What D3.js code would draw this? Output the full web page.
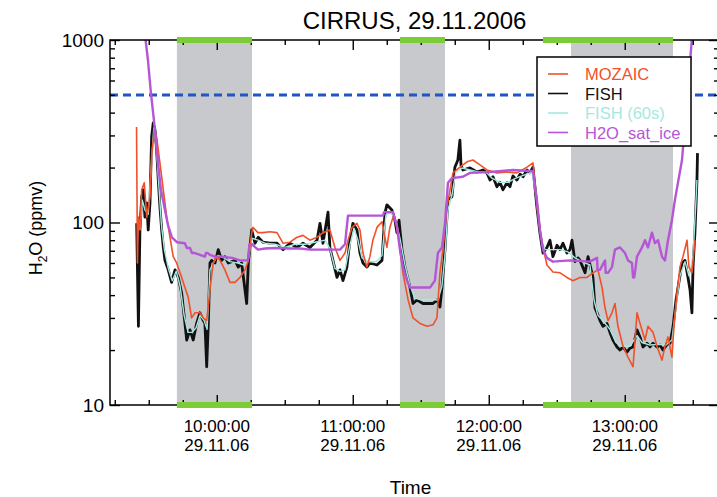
<!DOCTYPE html>
<html lang="en">
<head>
	<meta charset="UTF-8">
	<title>CIRRUS, 29.11.2006</title>
	<script src="https://d3js.org/d3.v7.min.js"></script>
	<style>
		body{
			margin: 0;
			background: #fff;
			font-family: "Liberation Sans", Arial, Helvetica, sans-serif;
		}
		svg{
			display: block;
		}
	</style>
</head>
<body>
	<div id="chart"></div>
	<script>
		// times in decimal hours UTC, values in ppmv
		var mozaicTime = [9.410,9.417,9.423,9.435,9.448,9.467,9.485,9.509,9.521,9.540,9.558,9.582,9.607,9.632,9.656,9.680,9.705,9.742,9.766,9.790,9.815,9.840,9.876,9.901,9.926,9.950,9.974,9.999,10.024,10.060,10.097,10.134,10.171,10.208,10.232,10.257,10.266,10.303,10.340,10.391,10.443,10.487,10.538,10.590,10.634,10.685,10.737,10.781,10.832,10.869,10.906,10.943,10.965,10.994,11.031,11.053,11.075,11.104,11.126,11.148,11.178,11.215,11.251,11.273,11.296,11.325,11.347,11.369,11.406,11.443,11.494,11.546,11.590,11.619,11.641,11.663,11.693,11.715,11.737,11.788,11.840,11.884,11.935,11.987,12.060,12.134,12.207,12.281,12.325,12.354,12.376,12.399,12.428,12.472,12.524,12.575,12.619,12.671,12.722,12.766,12.803,12.833,12.855,12.877,12.906,12.928,12.950,12.987,13.024,13.061,13.090,13.112,13.149,13.171,13.208,13.237,13.274,13.296,13.318,13.347,13.362,13.384,13.406,13.428,13.458,13.472,13.494,13.516];
		var mozaicVal = [334,60,107,91,151,165,107,138,228,321,294,212,151,107,83,65,60,50,44,39,30,32,32,30,29,43,60,65,62,55,47,47,50,55,62,88,94,88,88,89,88,77,78,83,85,80,83,88,91,73,62,68,80,94,99,91,68,57,65,80,94,101,73,94,107,99,71,53,38,30,28,27,27.5,30,53,71,122,151,187,201,215,220,207,194,187,189,187,201,212,122,91,73,58.5,53.6,53,50,48,50,50,53,55,44,34,29,32,36,27,21,18.3,16.2,32,28,22.7,27,25,21,17.6,21,23.6,18.3,27,41,57,65,80,57,53,80];

		var fishTime = [9.411,9.424,9.435,9.448,9.460,9.472,9.485,9.496,9.509,9.521,9.533,9.546,9.558,9.570,9.582,9.595,9.607,9.619,9.643,9.668,9.693,9.717,9.742,9.766,9.779,9.803,9.827,9.852,9.876,9.901,9.913,9.926,9.938,9.950,9.962,9.987,10.011,10.036,10.060,10.085,10.134,10.158,10.183,10.220,10.232,10.257,10.281,10.305,10.340,10.391,10.443,10.487,10.538,10.590,10.634,10.685,10.737,10.759,10.781,10.818,10.832,10.854,10.884,10.906,10.928,10.957,10.979,11.001,11.031,11.053,11.075,11.104,11.126,11.178,11.215,11.237,11.251,11.288,11.310,11.325,11.340,11.362,11.384,11.421,11.443,11.472,11.516,11.568,11.590,11.619,11.641,11.656,11.678,11.700,11.729,11.751,11.773,11.788,11.796,11.810,11.862,11.913,11.957,11.987,12.009,12.031,12.060,12.082,12.104,12.134,12.156,12.178,12.207,12.230,12.252,12.281,12.303,12.325,12.354,12.376,12.399,12.428,12.450,12.472,12.502,12.524,12.546,12.575,12.597,12.612,12.634,12.656,12.671,12.708,12.730,12.766,12.781,12.796,12.818,12.840,12.869,12.891,12.913,12.943,12.965,12.987,13.016,13.038,13.061,13.090,13.112,13.134,13.163,13.186,13.208,13.237,13.259,13.281,13.311,13.333,13.355,13.377,13.392,13.421,13.443,13.465,13.480,13.494,13.502,13.516,13.531,13.535];
		var fishVal = [99,27,91,138,151,107,128,91,128,294,351,321,250,171,122,91,73,62,55,47,55,50,41,28,22.7,25.8,22.7,28,32,29,28,16.2,28,60,62,60,71,62,65,60,62,57,60,36,60,91,77,83,78,77,77,71,77,73,77,73,80,99,77,114,73,62,50,55,48,57,80,99,91,68,60,57,60,58.5,62,113,125,117,103,88,103,71,57,44,36,37.6,36,36,36,37.6,34.4,44,71,133,138,201,220,283,206,194,199,189,194,187,171,178,157,166,151,165,157,180,171,184,178,194,187,201,122,88,68,73,80,65,75,71,77,68,71,80,61,64,62,53,65,50,34,32,29,27,28,25,22.7,20.8,20,20.8,19.5,20.5,20.8,25.8,23.6,20.8,21.8,20.8,21.8,20.8,21.3,20,21.5,21.8,26.8,37.6,44,60,62,50,42.7,32,57,88,171,240];

		var fish60Time = [9.435,9.452,9.472,9.496,9.521,9.537,9.555,9.574,9.593,9.615,9.644,9.673,9.702,9.730,9.760,9.789,9.818,9.848,9.877,9.907,9.929,9.950,9.980,10.009,10.053,10.097,10.156,10.200,10.229,10.259,10.303,10.355,10.428,10.502,10.575,10.649,10.722,10.796,10.832,10.869,10.906,10.943,10.979,11.009,11.038,11.068,11.112,11.171,11.215,11.244,11.281,11.318,11.347,11.384,11.421,11.457,11.509,11.568,11.626,11.656,11.678,11.700,11.729,11.758,11.803,11.862,11.921,11.979,12.024,12.082,12.141,12.200,12.259,12.318,12.354,12.384,12.413,12.465,12.524,12.583,12.634,12.686,12.744,12.774,12.803,12.847,12.891,12.935,12.979,13.038,13.090,13.127,13.186,13.245,13.303,13.347,13.377,13.406,13.443,13.472,13.502,13.524,13.531];
		var fish60Val = [91,133,117,111,220,330,265,160,97,71,56,48,54,45,31,25,25,26.5,31,29,26,55,61,66,64,61,60,58.5,61,82,80,77,76,73,76,76,78,80,72,56,54,55,75,93,80,64,61,61,66,110,114,101,82,58.5,45,38.5,37.6,38,37.6,45,66,117,141,189,199,194,189,189,175,166,166,175,182,189,133,82,71,71,71,69,64,61,58.5,37.6,31,28.5,26,22,21,21,24,22,21.3,21.5,21.3,22.7,35,51,61,51,66,133,171];

		var satTime = [9.468,9.494,9.516,9.538,9.568,9.590,9.619,9.641,9.670,9.707,9.766,9.780,9.803,9.818,9.840,9.913,9.920,9.935,9.950,9.987,10.038,10.112,10.171,10.229,10.240,10.259,10.303,10.355,10.428,10.538,10.612,10.685,10.759,10.832,10.906,10.943,10.965,11.053,11.126,11.222,11.230,11.296,11.325,11.347,11.369,11.399,11.421,11.494,11.568,11.604,11.626,11.656,11.678,11.700,11.729,11.810,11.862,12.009,12.178,12.325,12.354,12.376,12.399,12.428,12.472,12.597,12.744,12.796,12.800,12.818,12.855,12.860,12.877,12.906,12.928,12.965,13.002,13.024,13.053,13.061,13.070,13.090,13.127,13.149,13.171,13.200,13.222,13.245,13.274,13.296,13.318,13.347,13.369,13.421,13.458,13.494,13.509];
		var satVal = [1135,777,512,364,212,151,117,97,83,78,77,72.5,72.5,68,68,65,68,68,66.5,65,65,64,62,62,76,76,71,72,72.5,72,72,71,71,71,71,76,109,109,109,109,114,114,94.5,71,57,48,44,44,44,48,68,73,99,165,175,178,187,189,194,191,133,91,71,64,61,62,61,64,55,55,62,53,53,57,71,73,68,62,60,50,50,65,73,80,73,88,77,80,65,62,80,103,133,220,469,1025,1460];

		var frostLevel = 500;
		var cloudBands = [[9.707, 10.259], [11.347, 11.678], [12.605, 13.355]];
		var flightLegs = [[9.707, 10.259], [11.347, 11.678], [12.399, 13.355]];
		var yTickVals = [10, 100, 1000];
		var xTickHours = [10, 11, 12, 13];
		var tickDay = '29.11.06';

		var width = 717;
		var height = 497;
		var margin = {top: 40, right: -2, bottom: 92, left: 110};
		var plotW = width - margin.left - margin.right;
		var plotH = height - margin.top - margin.bottom;

		function toDate(h){
			return new Date(Date.UTC(2006, 10, 29) + h * 3600e3);
		}

		var svg = d3.select('#chart').append('svg')
			.attr('width', width)
			.attr('height', height);

		var g = svg.append('g')
			.attr('transform', 'translate(' + margin.left + ',' + margin.top + ')');

		var xScale = d3.scaleUtc().domain([toDate(9.215), toDate(13.693)]).range([0, plotW]);
		var yScale = d3.scaleLog().domain([10, 1000]).range([plotH, 0]);

		g.append('clipPath').attr('id', 'clip')
			.append('rect').attr('width', plotW).attr('height', plotH);

		var plot = g.append('g').attr('clip-path', 'url(#clip)');

		// in-cloud periods
		plot.selectAll('.band')
			.data(cloudBands)
			.enter()
			.append('rect')
			.attr('fill', '#c7c9cc')
			.attr('x', function(d){ return xScale(toDate(d[0])); })
			.attr('width', function(d){ return xScale(toDate(d[1])) - xScale(toDate(d[0])); })
			.attr('y', 0)
			.attr('height', plotH);

		plot.append('line')
			.attr('x1', 0).attr('x2', plotW)
			.attr('y1', yScale(frostLevel)).attr('y2', yScale(frostLevel))
			.attr('stroke', '#1f55c4')
			.attr('stroke-width', 3)
			.attr('stroke-dasharray', '8,5');

		var line = d3.line()
			.x(function(d){ return xScale(toDate(d[0])); })
			.y(function(d){ return yScale(d[1]); });

		var series = [
			{name: 'FISH', t: fishTime, v: fishVal, color: '#111111', w: 2.8},
			{name: 'FISH (60s)', t: fish60Time, v: fish60Val, color: '#a4e9e1', w: 1.4},
			{name: 'MOZAIC', t: mozaicTime, v: mozaicVal, color: '#f0512a', w: 1.6},
			{name: 'H2O_sat_ice', t: satTime, v: satVal, color: '#b456d6', w: 2.4}
		];

		series.forEach(function(s){
			plot.append('path')
				.datum(d3.zip(s.t, s.v))
				.attr('fill', 'none')
				.attr('stroke', s.color)
				.attr('stroke-width', s.w)
				.attr('stroke-linejoin', 'round')
				.attr('d', line);
		});

		// axes, ticks on all four sides pointing inwards
		var majorX = xTickHours.map(toDate);
		var minorX = d3.range(9.25, 13.6, 0.25).filter(function(h){ return h % 1 !== 0; }).map(toDate);
		var minorY = d3.range(20, 100, 10).concat(d3.range(200, 1000, 100));

		function styleAxis(sel){
			sel.select('.domain').remove();
			sel.selectAll('line').attr('stroke', '#000').attr('stroke-width', 1.4);
		}

		g.append('g').attr('transform', 'translate(0,' + plotH + ')')
			.call(d3.axisBottom(xScale).tickValues(majorX).tickSize(-10).tickFormat(''))
			.call(styleAxis);
		g.append('g').attr('transform', 'translate(0,' + plotH + ')')
			.call(d3.axisBottom(xScale).tickValues(minorX).tickSize(-5).tickFormat(''))
			.call(styleAxis);
		g.append('g')
			.call(d3.axisTop(xScale).tickValues(majorX).tickSize(-10).tickFormat(''))
			.call(styleAxis);
		g.append('g')
			.call(d3.axisTop(xScale).tickValues(minorX).tickSize(-5).tickFormat(''))
			.call(styleAxis);

		var yAxis = g.append('g')
			.call(d3.axisLeft(yScale).tickValues(yTickVals).tickSize(-10).tickPadding(6).tickFormat(d3.format('d')))
			.call(styleAxis);
		yAxis.selectAll('text')
			.attr('fill', '#000')
			.style('font-size', '19px')
			.style('font-family', '"Liberation Sans", Arial, sans-serif');
		g.append('g')
			.call(d3.axisLeft(yScale).tickValues(minorY).tickSize(-5).tickFormat(''))
			.call(styleAxis);
		g.append('g').attr('transform', 'translate(' + plotW + ',0)')
			.call(d3.axisRight(yScale).tickValues(yTickVals).tickSize(-10).tickFormat(''))
			.call(styleAxis);
		g.append('g').attr('transform', 'translate(' + plotW + ',0)')
			.call(d3.axisRight(yScale).tickValues(minorY).tickSize(-5).tickFormat(''))
			.call(styleAxis);

		g.append('rect')
			.attr('width', plotW)
			.attr('height', plotH)
			.attr('fill', 'none')
			.attr('stroke', '#000')
			.attr('stroke-width', 1.5);

		// flight legs marked in green on top and bottom axis
		[0, plotH].forEach(function(yPos){
			g.selectAll(null)
				.data(flightLegs)
				.enter()
				.append('rect')
				.attr('fill', '#7ccc37')
				.attr('x', function(d){ return xScale(toDate(d[0])); })
				.attr('width', function(d){ return xScale(toDate(d[1])) - xScale(toDate(d[0])); })
				.attr('y', yPos - 3)
				.attr('height', 6);
		});

		g.selectAll('.xlab')
			.data(majorX)
			.enter()
			.append('text')
			.attr('text-anchor', 'middle')
			.attr('font-size', '17px')
			.attr('x', function(d){ return xScale(d); })
			.attr('y', plotH + 27)
			.text(d3.utcFormat('%H:%M:%S'));
		g.selectAll('.xday')
			.data(majorX)
			.enter()
			.append('text')
			.attr('text-anchor', 'middle')
			.attr('font-size', '17px')
			.attr('x', function(d){ return xScale(d); })
			.attr('y', plotH + 46)
			.text(tickDay);

		svg.append('text')
			.attr('x', margin.left + plotW / 2)
			.attr('y', 29)
			.attr('text-anchor', 'middle')
			.attr('font-size', '24px')
			.text('CIRRUS, 29.11.2006');

		svg.append('text')
			.attr('x', margin.left + plotW / 2 - 4)
			.attr('y', 494)
			.attr('text-anchor', 'middle')
			.attr('font-size', '19px')
			.text('Time');

		var yTitle = svg.append('text')
			.attr('transform', 'translate(42,228) rotate(-90)')
			.attr('text-anchor', 'middle')
			.attr('font-size', '18px');
		yTitle.append('tspan').text('H');
		yTitle.append('tspan').attr('font-size', '12px').attr('dy', 5).text('2');
		yTitle.append('tspan').attr('dy', -5).text('O (ppmv)');

		// legend
		var legend = svg.append('g').attr('transform', 'translate(537,57)');
		legend.append('rect')
			.attr('width', 154)
			.attr('height', 89)
			.attr('fill', '#fff')
			.attr('stroke', '#000')
			.attr('stroke-width', 1.5);
		var legendOrder = [series[2], series[0], series[1], series[3]];
		var textColor = {'MOZAIC': '#f0512a', 'FISH': '#111', 'FISH (60s)': '#a4e9e1', 'H2O_sat_ice': '#b456d6'};
		var rows = legend.selectAll('.row')
			.data(legendOrder)
			.enter()
			.append('g')
			.attr('transform', function(d, i){ return 'translate(0,' + (17 + i * 19.5) + ')'; });
		rows.append('line')
			.attr('x1', 11).attr('x2', 31)
			.attr('stroke', function(d){ return d.color; })
			.attr('stroke-width', 1.6);
		rows.append('text')
			.attr('x', 48)
			.attr('dy', 6)
			.attr('font-size', '16.5px')
			.attr('fill', function(d){ return textColor[d.name]; })
			.text(function(d){ return d.name; });
	</script>
</body>
</html>
